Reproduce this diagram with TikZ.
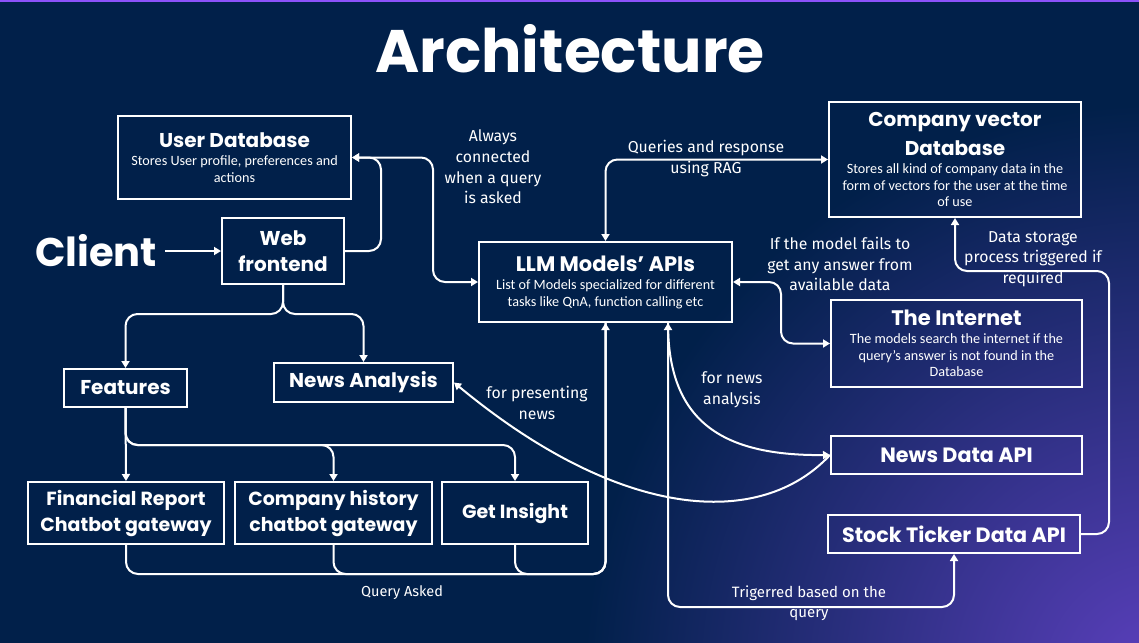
\documentclass[tikz,border=0pt]{standalone}
\usepackage{fontspec}
\setmainfont{Fira Sans}
\newfontfamily\pop{Poppins}
\newfontfamily\carl{Carlito}
\usetikzlibrary{arrows.meta,calc}
\definecolor{bg}{RGB}{1,32,74}
\definecolor{glow}{RGB}{92,64,190}
\definecolor{topline}{RGB}{140,82,250}
\pgfdeclareradialshading{glowsh}{\pgfpoint{0bp}{0bp}}{color(0bp)=(glow); color(12bp)=(bg); color(50bp)=(bg)}
\newcommand\bt{\pop\bfseries\fontsize{20}{24}\selectfont}
\newcommand\btl{\pop\bfseries\fontsize{21}{24}\selectfont}
\begin{document}
\begin{tikzpicture}[x=1pt,y=-1pt,
  box/.style={draw=white,line width=2pt,inner sep=2pt,align=center,text=white,
    font=\carl\fontsize{14.2}{16.5}\selectfont},
  gate/.style={box,font=\pop\bfseries\fontsize{19}{26}\selectfont},
  gbig/.style={box,font=\pop\bfseries\fontsize{20}{24}\selectfont},
  lab/.style={text=white,align=center,font=\fontsize{15.8}{20.7}\selectfont},
  conn/.style={draw=white,line width=2pt,rounded corners=12pt},
  tip/.style={-{Triangle[length=7pt,width=8pt]}},
  dtip/.style={{Triangle[length=7pt,width=8pt]}-{Triangle[length=7pt,width=8pt]}}]
\useasboundingbox (0,0) rectangle (1139,642);
\begin{scope}
  \clip (0,0) rectangle (1139,642);
  \fill[bg] (0,0) rectangle (1139,642);
  \shade[shading=glowsh] (-40,-520) rectangle (2360,1880);
\end{scope}
\fill[topline] (0,0) rectangle (1139,2.5);

% title and client
\node[anchor=base,text=white,font=\pop\bfseries\fontsize{60}{70}\selectfont] (title) at (570,72) {Architecture};
\node[anchor=base,text=white,inner sep=8pt,font=\pop\bfseries\fontsize{40}{46}\selectfont] (client) at (96,266) {Client};

% boxes
\node[box,minimum width=233pt,minimum height=83pt] (userdb) at (234.5,157.5)
  {{\bt User Database}\\[2pt]Stores User profile, preferences and\\actions};
\node[gbig,minimum width=122pt,minimum height=66pt,font=\pop\bfseries\fontsize{20}{26}\selectfont] (web) at (283,251) {Web\\frontend};
\node[box,minimum width=253pt,minimum height=80pt] (llm) at (605.5,282)
  {{\btl LLM Models’ APIs}\\[2pt]List of Models specialized for different\\tasks like QnA, function calling etc};
\node[box,minimum width=252pt,minimum height=115pt] (cvdb) at (955,159.5)
  {{\bt Company vector}\\[8pt]{\bt Database}\\[2pt]Stores all kind of company data in the\\form of vectors for the user at the time\\of use};
\node[box,minimum width=251pt,minimum height=87pt] (internet) at (956.5,343.5)
  {{\btl The Internet}\\[2pt]The models search the internet if the\\query’s answer is not found in the\\Database};
\node[gbig,minimum width=123pt,minimum height=38pt] (features) at (125.5,388) {Features};
\node[gbig,minimum width=179pt,minimum height=39pt] (newsana) at (363.5,382.5) {News Analysis};
\node[gate,minimum width=196pt,minimum height=62pt] (fin) at (126,513) {Financial Report\\Chatbot gateway};
\node[gate,minimum width=197pt,minimum height=62pt] (comp) at (333.5,513) {Company history\\chatbot gateway};
\node[gate,minimum width=146pt,minimum height=62pt] (getins) at (515,513) {Get Insight};
\node[gbig,minimum width=251pt,minimum height=38pt,font=\pop\bfseries\fontsize{20.7}{24}\selectfont] (newsapi) at (956.5,455) {News Data API};
\node[gbig,minimum width=252pt,minimum height=38pt,font=\pop\bfseries\fontsize{20.7}{24}\selectfont] (stock) at (954,534) {Stock Ticker Data API};

% labels
\node[lab] (l1) at (493,167) {Always\\connected\\when a query\\is asked};
\node[lab] (l2) at (706,158.5) {Queries and response\\using RAG};
\node[lab] (l3) at (840,264) {If the model fails to\\get any answer from\\available data};
\node[lab] (l4) at (1033,259) {Data storage\\process triggered if\\required};
\node[lab] (l5) at (732,390) {for news\\analysis};
\node[lab] (l6) at (537,403) {for presenting\\news};
\node[lab,font=\fontsize{14.5}{20}\selectfont] (l7) at (402,593) {Query Asked};
\node[lab,font=\fontsize{15}{20}\selectfont] (l8) at (809,603) {Trigerred based on the\\query};

% connectors
\draw[conn,tip] (client.east |- web.west) -- (web.west);
\draw[conn,tip] (web.east) -- ++(36,0) |- (userdb.east);
\draw[conn,dtip] (userdb.east) -- ++(81,0) |- (llm.west);
\draw[conn,dtip] (llm.north) |- (cvdb.west);
\draw[conn,dtip] (llm.east) -- ++(48,0) |- (internet.west);
\draw[conn,tip] (stock.east) -- ++(28,0) |- ([yshift=-53pt]cvdb.south) -- (cvdb.south);
\draw[conn,tip] (web.south) -- ++(0,29) -| (features.north);
\draw[conn,tip] (web.south) -- ++(0,29) -| (newsana.north);
\draw[conn,tip] (features.south) -- (fin.north);
\draw[conn,tip] (features.south) -- ++(0,37) -| (comp.north);
\draw[conn,tip] (features.south) -- ++(0,37) -| (getins.north);
\draw[conn,tip] (fin.south) -- ++(0,29) -| (llm.south);
\draw[conn] (comp.south) -- ++(0,29) -| (llm.south);
\draw[conn] (getins.south) -- ++(0,29) -| (llm.south);
\draw[conn,dtip] ([xshift=62.5pt]llm.south) -- ++(0,284) -| (stock.south);
\draw[draw=white,line width=2pt,tip] ([xshift=62.5pt]llm.south) .. controls (668,420) and (720,456) .. (newsapi.west);
\draw[draw=white,line width=2pt,tip] (newsapi.west) .. controls (760,530) and (620,520) .. (newsana.east);
\end{tikzpicture}
\end{document}
